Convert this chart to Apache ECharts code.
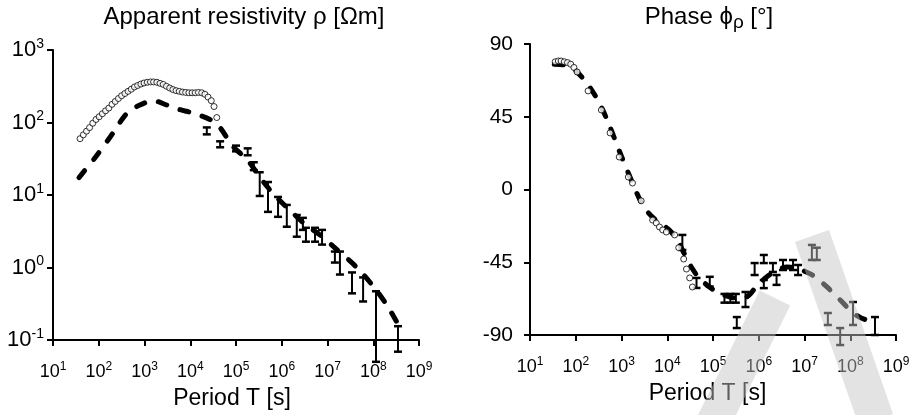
<!DOCTYPE html>
<html>
<head>
<meta charset="utf-8">
<script src="https://cdn.jsdelivr.net/npm/echarts@6/dist/echarts.min.js"></script>
<style>
html,body{margin:0;padding:0;background:#fff;}
#c{width:915px;height:415px;}
</style>
</head>
<body>
<div id="c"></div>
<script>
// ---------- data ----------
// Apparent resistivity: observed (open circles)
const rhoObsT = [39, 46, 54, 63, 74, 87, 102, 120, 141, 166, 195, 229, 269, 316, 372, 437, 513, 603, 708, 832, 977, 1150, 1350, 1580, 1860, 2190, 2570, 3020, 3550, 4170, 4900, 5750, 6760, 7940, 9330, 11000, 12900, 15100, 17800, 20900, 24500, 28800, 33100, 38000];
const rhoObs  = [59.8, 67.6, 75.9, 85.1, 97.7, 110, 120, 132, 145, 158, 178, 195, 214, 234, 251, 269, 288, 309, 324, 339, 351, 359, 363, 363, 359, 347, 335, 316, 299, 285, 275, 269, 263, 260, 257, 257, 257, 260, 257, 245, 224, 200, 166, 117];
// Apparent resistivity: model (dashed)
const rhoModelT = [37, 83, 178, 417, 794, 1550, 3090, 6030, 11500, 26900, 44700, 85100, 174000, 398000, 794000, 1580000, 3160000, 6920000, 15800000, 43700000, 100000000, 200000000, 363000000];
const rhoModel  = [17.4, 32.7, 63.1, 135, 174, 200, 174, 150, 135, 110, 85, 46.8, 30.9, 15.1, 9.1, 6.0, 4.0, 2.8, 1.78, 1.0, 0.55, 0.30, 0.158];
// Apparent resistivity: error bars
const rhoErrT    = [23000, 45000, 100000, 180000, 245000, 330000, 500000, 830000, 1290000, 2130000, 2900000, 3380000, 5340000, 7600000, 14500000, 18700000, 34300000, 60000000, 115000000, 347000000];
const rhoErrLow  = [68.6, 45.5, 40, 35.3, 22, 9.7, 5.85, 5.0, 3.65, 2.66, 3.3, 2.27, 2.27, 2.07, 1.17, 0.80, 0.44, 0.34, 0.05, 0.069];
const rhoErrHigh = [85.5, 55, 48, 44, 28.3, 20.6, 15.1, 9.4, 7.3, 5.3, 4.84, 3.53, 3.53, 3.3, 1.66, 1.66, 0.855, 0.73, 0.47, 0.155];

// Phase: observed (open circles)
const phObsT = [35.5, 41.7, 47.9, 56.2, 66.1, 77.6, 91.2, 107, 186, 363, 562, 891, 1410, 1740, 2690, 4790, 5750, 6760, 7940, 9550, 14500, 17800, 22900, 26300, 30900, 35500];
const phObs  = [79, 79.5, 79.5, 79, 78.5, 77.5, 75.5, 72.7, 61, 49.2, 35, 20.1, 7.7, 4, -7, -18.9, -20.7, -23.2, -25, -26.3, -28.1, -36, -43, -49.2, -54.7, -60.3];
// Phase: model (dashed)
const phModelT = [33.9, 56.2, 91.2, 195, 363, 562, 933, 1410, 2400, 3390, 5620, 8510, 12000, 17800, 22900, 34700, 49000, 83200, 138000, 257000, 447000, 631000, 912000, 1510000, 2450000, 4070000, 6760000, 9120000, 15100000, 30900000, 60300000, 115000000, 162000000, 316000000, 363000000];
const phModel  = [77.5, 77, 74.5, 64, 51, 38.6, 22.6, 10.2, -5, -12.5, -19, -22.5, -26, -33, -39, -48.6, -54.5, -60.3, -64, -66.8, -67.5, -65, -59.5, -54, -50, -48, -48.3, -50, -53, -60.3, -68.4, -76.4, -79, -82.6, -85];
// Phase: error bars
const phErrT    = [21400, 43600, 85000, 178000, 240000, 316000, 331000, 513000, 813000, 1290000, 1290000, 2040000, 2450000, 3390000, 5620000, 7240000, 14500000, 18600000, 32400000, 60300000, 115000000, 347000000];
const phErrLow  = [-37.4, -60.9, -60, -70, -70, -70, -85.7, -72.7, -52.9, -45.5, -61, -51, -59, -49.8, -49.8, -52.9, -43.6, -43.6, -83.8, -96.2, -83.8, -90];
const phErrHigh = [-28.1, -54.7, -54, -64.6, -64.6, -64.6, -78.9, -63.4, -45.5, -40.5, -56, -45.5, -52.9, -43.6, -43.6, -46.7, -34.3, -36, -76.4, -85.7, -69.6, -78.9];

// axis ranges / ticks
const periodRange = [10, 1e9];
const rhoRange = [0.1, 1000];
const phaseTicks = [-90, -45, 0, 45, 90];

// ---------- chart ----------
const FONT = '"Liberation Sans", Arial, sans-serif';
const chart = echarts.init(document.getElementById('c'), null, {renderer: 'canvas'});

const zip = (a, b) => a.map((v, i) => [v, b[i]]);
const zip3 = (a, b, c) => a.map((v, i) => [v, b[i], c[i]]);

function powRich(big, small, lh) {
  return {
    b: {fontSize: big, fontFamily: FONT, color: '#000', lineHeight: lh, verticalAlign: 'middle'},
    s: {fontSize: small, fontFamily: FONT, color: '#000', lineHeight: small + 1, verticalAlign: 'top'}
  };
}
const powFmt = v => '{b|10}{s|' + Math.round(Math.log10(v)) + '}';

const axisLine = {show: true, onZero: false, lineStyle: {color: '#000', width: 2}};
const axisTick = {show: true, inside: false, length: 6, lineStyle: {color: '#000', width: 2}};

function errRender(params, api) {
  const x = api.value(0), lo = api.value(1), hi = api.value(2);
  const p1 = api.coord([x, hi]);
  const p2 = api.coord([x, lo]);
  const w = 4;
  const st = {stroke: '#000', lineWidth: 2};
  const cst = {stroke: '#000', lineWidth: 2.5};
  return {
    type: 'group',
    children: [
      {type: 'line', shape: {x1: p1[0], y1: p1[1], x2: p2[0], y2: p2[1]}, style: st},
      {type: 'line', shape: {x1: p1[0] - w, y1: p1[1], x2: p1[0] + w, y2: p1[1]}, style: cst},
      {type: 'line', shape: {x1: p2[0] - w, y1: p2[1], x2: p2[0] + w, y2: p2[1]}, style: cst}
    ]
  };
}

const dashStyle = {color: '#000', width: 5, type: [9, 14], cap: 'round', join: 'round'};
const circleItem = {color: '#fff', borderColor: '#000', borderWidth: 1};
const wm = 'rgba(197,197,197,0.48)';

function xAxisDef(idx, pad) {
  return {
    gridIndex: idx, type: 'log', logBase: 10, min: periodRange[0], max: periodRange[1], splitNumber: 8,
    axisLine, axisTick, splitLine: {show: false}, minorTick: {show: false},
    axisLabel: {formatter: powFmt, rich: powRich(18, 12, 22), margin: 21, showMinLabel: true, showMaxLabel: true},
    name: 'Period T [s]', nameLocation: 'middle', nameGap: 47,
    nameTextStyle: {fontSize: 23, fontFamily: FONT, color: '#000', padding: [0, pad, 0, 0]}
  };
}

const option = {
  animation: false,
  backgroundColor: '#fff',
  grid: [
    {left: 53, top: 50, width: 366, height: 291},
    {left: 530, top: 44, width: 366, height: 291}
  ],
  xAxis: [xAxisDef(0, 8), xAxisDef(1, 11)],
  yAxis: [
    {
      gridIndex: 0, type: 'log', logBase: 10, min: rhoRange[0], max: rhoRange[1], splitNumber: 4,
      axisLine, axisTick, splitLine: {show: false}, minorTick: {show: false},
      axisLabel: {formatter: powFmt, rich: powRich(22, 14, 26), margin: 9, showMinLabel: true, showMaxLabel: true}
    },
    {
      gridIndex: 1, type: 'value', min: phaseTicks[0], max: phaseTicks[phaseTicks.length - 1],
      interval: phaseTicks[1] - phaseTicks[0],
      axisLine, axisTick, splitLine: {show: false},
      axisLabel: {fontSize: 21, fontFamily: FONT, color: '#000', margin: 17}
    }
  ],
  series: [
    {
      type: 'line', xAxisIndex: 0, yAxisIndex: 0, data: zip(rhoModelT, rhoModel),
      showSymbol: false, smooth: 0.3, lineStyle: dashStyle, z: 2, silent: true
    },
    {
      type: 'custom', xAxisIndex: 0, yAxisIndex: 0, data: zip3(rhoErrT, rhoErrLow, rhoErrHigh),
      renderItem: errRender, encode: {x: 0, y: [1, 2]}, z: 3, clip: false, silent: true
    },
    {
      type: 'scatter', xAxisIndex: 0, yAxisIndex: 0, data: zip(rhoObsT, rhoObs),
      symbol: 'circle', symbolSize: 6, itemStyle: circleItem, z: 4, silent: true
    },
    {
      type: 'line', xAxisIndex: 1, yAxisIndex: 1, data: zip(phModelT, phModel),
      showSymbol: false, smooth: 0.3, lineStyle: dashStyle, z: 2, silent: true
    },
    {
      type: 'custom', xAxisIndex: 1, yAxisIndex: 1, data: zip3(phErrT, phErrLow, phErrHigh),
      renderItem: errRender, encode: {x: 0, y: [1, 2]}, z: 3, clip: false, silent: true
    },
    {
      type: 'scatter', xAxisIndex: 1, yAxisIndex: 1, data: zip(phObsT, phObs),
      symbol: 'circle', symbolSize: 6, itemStyle: circleItem, z: 4, silent: true
    }
  ],
  graphic: [
    {
      type: 'text', x: 244, y: 17, silent: true,
      style: {text: 'Apparent resistivity ρ [Ωm]', fontSize: 24, fontFamily: FONT, fill: '#000', align: 'center', verticalAlign: 'middle'}
    },
    {
      type: 'text', x: 709, y: 17, silent: true,
      style: {
        text: '{t|Phase ϕ}{u|ρ}{t| [°]}', align: 'center', verticalAlign: 'middle',
        rich: {
          t: {fontSize: 24, fontFamily: FONT, fill: '#000', lineHeight: 30, verticalAlign: 'middle'},
          u: {fontSize: 19, fontFamily: FONT, fill: '#000', lineHeight: 16, verticalAlign: 'bottom'}
        }
      }
    },
    {
      type: 'polyline', silent: true, z: 100,
      shape: {points: [[712, 425], [775, 298]]},
      style: {stroke: wm, lineWidth: 34, fill: null, lineCap: 'butt'}
    },
    {
      type: 'polyline', silent: true, z: 100,
      shape: {points: [[812, 236], [876, 420]]},
      style: {stroke: wm, lineWidth: 36, fill: null, lineCap: 'butt'}
    }
  ]
};
chart.setOption(option);
</script>
</body>
</html>
